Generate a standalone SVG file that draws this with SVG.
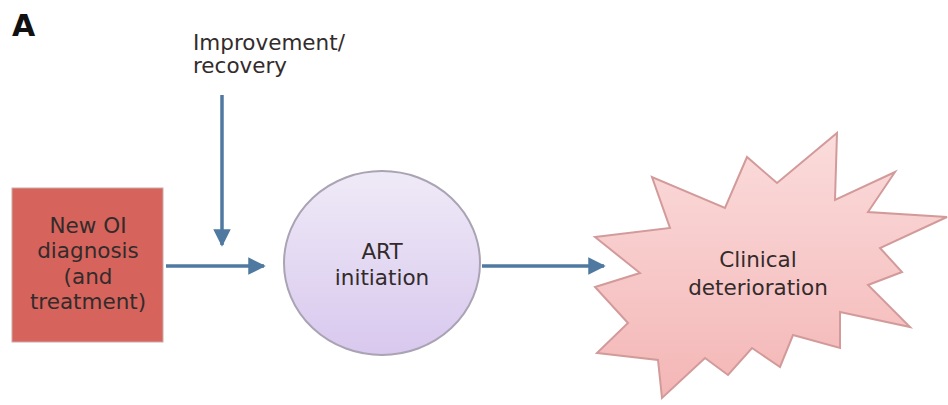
<svg xmlns="http://www.w3.org/2000/svg" width="948" height="405" viewBox="0 0 948 405">
<defs>
<style>
.t{font-family:"DejaVu Sans","Liberation Sans",sans-serif;font-size:21.5px;fill:#332b2b;text-anchor:middle}
.c{stroke:#4f79a0;stroke-width:3.5;fill:none}
</style>
<marker id="ah" viewBox="0 0 10 10" refX="9" refY="5" markerWidth="5" markerHeight="5" markerUnits="strokeWidth" orient="auto">
<path d="M0,0 L10,5 L0,10 Z" fill="#4f79a0"/>
</marker>
<linearGradient id="gc" x1="0" y1="0" x2="0" y2="1">
<stop offset="0" stop-color="#efeaf7"/>
<stop offset="1" stop-color="#d8c8ee"/>
</linearGradient>
<linearGradient id="gs" x1="0" y1="0" x2="0" y2="1">
<stop offset="0" stop-color="#fbdcdc"/>
<stop offset="1" stop-color="#f4b6b6"/>
</linearGradient>
</defs>
<rect width="948" height="405" fill="#ffffff"/>
<text x="12" y="36" font-family="'DejaVu Sans','Liberation Sans',sans-serif" font-size="30" font-weight="bold" fill="#111">A</text>
<text x="193" y="50" font-family="'DejaVu Sans','Liberation Sans',sans-serif" font-size="21.5" fill="#332b2b">Improvement/</text>
<text x="193" y="73" font-family="'DejaVu Sans','Liberation Sans',sans-serif" font-size="21.5" fill="#332b2b">recovery</text>
<g id="connectors">
<line class="c" x1="222" y1="95" x2="222" y2="245" stroke-width="4.5" marker-end="url(#ah)"/>
<line class="c" x1="166" y1="266" x2="264" y2="266" marker-end="url(#ah)"/>
<line class="c" x1="482" y1="266" x2="604" y2="266" marker-end="url(#ah)"/>
</g>
<g id="oi">
<rect x="12" y="188" width="151" height="154" fill="#d6645c" stroke="#c9aaa8" stroke-width="1"/>
<text class="t" x="88" y="233">New OI</text>
<text class="t" x="88" y="258">diagnosis</text>
<text class="t" x="88" y="284">(and</text>
<text class="t" x="88" y="309">treatment)</text>
</g>
<g id="art">
<ellipse cx="382" cy="263" rx="98" ry="92" fill="url(#gc)" stroke="#aaa3b3" stroke-width="2"/>
<text class="t" x="382" y="259">ART</text>
<text class="t" x="382" y="285">initiation</text>
</g>
<g id="clinical">
<polygon points="595,237 670,228 652,177 725,208 747,157 777,183 837,133 835,200 895,172 868,212 947,217 880,248 902,272 868,285 910,327 840,312 840,348 793,335 780,367 752,348 728,375 705,358 662,398 658,360 597,353 628,323 595,287 640,273" fill="url(#gs)" stroke="#d39a9a" stroke-width="2" stroke-linejoin="miter"/>
<text class="t" x="758" y="267">Clinical</text>
<text class="t" x="758" y="295">deterioration</text>
</g>
</svg>
